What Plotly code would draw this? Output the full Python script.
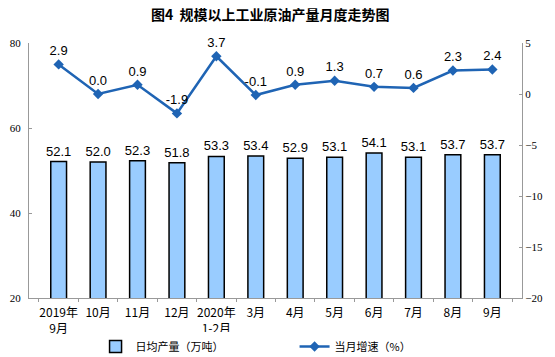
import plotly.graph_objects as go

categories = ["2019年<br>9月", "10月", "11月", "12月", "2020年<br>1-2月", "3月", "4月", "5月", "6月", "7月", "8月", "9月"]
daily_output = [52.1, 52.0, 52.3, 51.8, 53.3, 53.4, 52.9, 53.1, 54.1, 53.1, 53.7, 53.7]
growth_rate = [2.9, 0.0, 0.9, -1.9, 3.7, -0.1, 0.9, 1.3, 0.7, 0.6, 2.3, 2.4]

fig = go.Figure()
fig.add_trace(go.Bar(
    x=categories, y=daily_output, name="日均产量（万吨）",
    marker=dict(color="#99CCFF", line=dict(color="#000000", width=1.5)),
    text=[f"{v:.1f}" for v in daily_output], textposition="outside",
    textangle=0, constraintext="none",
    textfont=dict(family="Liberation Sans, Arial", size=13, color="#000"),
    cliponaxis=False,
))
fig.add_trace(go.Scatter(
    x=categories, y=growth_rate, name="当月增速（%）", yaxis="y2",
    mode="lines+markers+text",
    line=dict(color="#1F64B4", width=2.5),
    marker=dict(symbol="diamond", size=8, color="#1F64B4"),
    text=[f"{v:.1f}" for v in growth_rate], textposition="top center",
    textfont=dict(family="Liberation Sans, Arial", size=13, color="#000"),
    cliponaxis=False,
))

fig.update_layout(
    width=555, height=357,
    margin=dict(l=29, r=33, t=43, b=59, autoexpand=False),
    paper_bgcolor="white", plot_bgcolor="white",
    title=dict(text="<b>图4  规模以上工业原油产量月度走势图</b>", x=0.487, xanchor="center", y=0.957, yanchor="middle",
               font=dict(family="Noto Sans CJK SC", size=14, color="#000")),
    bargap=0.6,
    showlegend=True,
    legend=dict(orientation="h", x=0.135, y=-0.19, xanchor="left", yanchor="middle",
                font=dict(family="Noto Sans CJK SC", size=11, color="#000"),
                entrywidth=154, itemwidth=30),
    xaxis=dict(showline=True, linecolor="#999", linewidth=1, ticks="outside", tickson="boundaries",
               ticklen=3, tickcolor="#999", tickangle=0, automargin=False, ticklabelstandoff=4,
               tickfont=dict(family="Noto Sans CJK SC", size=12, color="#000"),
               showgrid=False),
    yaxis=dict(range=[20, 80], tickvals=[20, 40, 60, 80], showline=True, linecolor="#999", linewidth=1,
               ticks="inside", ticklen=3, tickcolor="#999", showgrid=False, zeroline=False, automargin=False,
               ticklabelstandoff=5,
               tickfont=dict(family="Liberation Serif", size=11, color="#000")),
    yaxis2=dict(range=[-20, 5], tickvals=[5, 0, -5, -10, -15, -20], overlaying="y", side="right",
                showline=True, linecolor="#999", linewidth=1, ticks="inside", ticklen=3, tickcolor="#999",
                showgrid=False, zeroline=False, automargin=False,
                tickfont=dict(family="Liberation Serif", size=11, color="#000")),
)

fig.write_html("out.html", config={"displayModeBar": False},
               post_script="document.body.style.margin='0';document.body.style.overflow='hidden';")
